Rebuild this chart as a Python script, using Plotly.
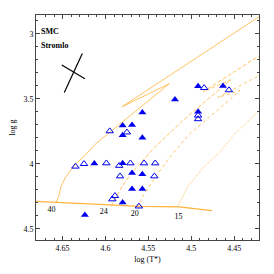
import plotly.graph_objects as go

# ---------------- data ----------------
filled_logT = [4.492, 4.463, 4.519, 4.557, 4.492, 4.580, 4.569, 4.580, 4.557,
               4.613, 4.580, 4.569, 4.557, 4.569, 4.557, 4.580, 4.624]
filled_logg = [3.402, 3.400, 3.504, 3.604, 3.598, 3.704, 3.700, 3.779, 3.798,
               3.997, 3.995, 4.070, 4.080, 4.193, 4.193, 4.297, 4.393]

open_logT = [4.485, 4.456, 4.492, 4.492, 4.595, 4.575, 4.635, 4.625, 4.599,
             4.584, 4.571, 4.555, 4.542, 4.583, 4.543, 4.589, 4.592, 4.561]
open_logg = [3.415, 3.432, 3.627, 3.655, 3.748, 3.757, 4.020, 4.000, 3.995,
             4.014, 3.995, 3.995, 3.995, 4.095, 4.095, 4.246, 4.272, 4.327]

zams_logT = [4.690, 4.646, 4.601, 4.559, 4.514, 4.476]
zams_logg = [4.286, 4.299, 4.310, 4.327, 4.331, 4.360]

t40_logT = [4.6576, 4.6542, 4.6519, 4.6463, 4.6350, 4.6237, 4.6124, 4.5786, 4.5256, 4.5808, 4.4092]
t40_logg = [4.2968, 4.2440, 4.1760, 4.1005, 4.0023, 3.9343, 3.8512, 3.6699, 3.3829, 3.5604, 2.8165]

t24_logT = [4.5932, 4.5876, 4.5808, 4.5695, 4.5560, 4.5428, 4.5103, 4.4539, 4.4860, 4.4036]
t24_logg = [4.3233, 4.2515, 4.1760, 4.0702, 3.9721, 3.8739, 3.6699, 3.3527, 3.4434, 3.0959]

t20_logT = [4.5633, 4.5560, 4.5447, 4.5278, 4.5029, 4.4713, 4.4431, 4.4690, 4.4036]
t20_logg = [4.3346, 4.2440, 4.1307, 3.9721, 3.7757, 3.5944, 3.4358, 3.4887, 3.2600]

t15_logT = [4.5159, 4.5105, 4.5041, 4.4954, 4.4841, 4.4672, 4.4502, 4.4100]
t15_logg = [4.3293, 4.2538, 4.1760, 4.1027, 4.0151, 3.9139, 3.7757, 3.5200]

track_labels = ["40", "24", "20", "15"]
label_logT = [4.663, 4.602, 4.566, 4.515]
label_logg = [4.353, 4.373, 4.388, 4.410]

err1_logT = [4.648, 4.627]
err1_logg = [3.451, 3.151]
err2_logT = [4.651, 4.624]
err2_logg = [3.239, 3.345]

xticks = [4.65, 4.6, 4.55, 4.5, 4.45]
xtick_text = ["4.65", "4.6", "4.55", "4.5", "4.45"]
yticks = [3, 3.5, 4, 4.5]
ytick_text = ["3", "3.5", "4", "4.5"]

ORANGE = "#FFB43C"
BLUE = "#0000EE"
FONT = "Liberation Serif"

fig = go.Figure()

fig.add_trace(go.Scatter(x=zams_logT, y=zams_logg, mode="lines",
                         line=dict(color=ORANGE, width=1.4), hoverinfo="skip"))
fig.add_trace(go.Scatter(x=t40_logT, y=t40_logg, mode="lines",
                         line=dict(color=ORANGE, width=0.8), hoverinfo="skip"))
fig.add_trace(go.Scatter(x=t24_logT, y=t24_logg, mode="lines",
                         line=dict(color=ORANGE, width=0.8, dash="4px,2px"), hoverinfo="skip"))
fig.add_trace(go.Scatter(x=t20_logT, y=t20_logg, mode="lines",
                         line=dict(color=ORANGE, width=0.8, dash="3px,3px"), hoverinfo="skip"))
fig.add_trace(go.Scatter(x=t15_logT, y=t15_logg, mode="lines",
                         line=dict(color=ORANGE, width=0.8, dash="1px,1px"), hoverinfo="skip"))

for ex, ey in ((err1_logT, err1_logg), (err2_logT, err2_logg)):
    fig.add_trace(go.Scatter(x=ex, y=ey, mode="lines",
                             line=dict(color="black", width=1.2), hoverinfo="skip"))

fig.add_trace(go.Scatter(x=open_logT, y=open_logg, mode="markers",
                         marker=dict(symbol="triangle-up-open", size=6.5, color=BLUE,
                                     line=dict(width=1, color=BLUE))))
fig.add_trace(go.Scatter(x=filled_logT, y=filled_logg, mode="markers",
                         marker=dict(symbol="triangle-up", size=7, color=BLUE,
                                     line=dict(width=0))))

fig.add_trace(go.Scatter(x=label_logT, y=label_logg, mode="text", text=track_labels,
                         textfont=dict(family=FONT, size=8, color="black"),
                         hoverinfo="skip"))

fig.add_annotation(x=0.015, y=0.927, xref="paper", yref="paper", text="<b>SMC</b>",
                   showarrow=False, xanchor="left", yanchor="middle",
                   font=dict(family=FONT, size=8, color="black"))
fig.add_annotation(x=0.015, y=0.865, xref="paper", yref="paper", text="<b>Stromlo</b>",
                   showarrow=False, xanchor="left", yanchor="middle",
                   font=dict(family=FONT, size=8, color="black"))

axis_common = dict(showgrid=False, zeroline=False, showline=True, linecolor="#444",
                   linewidth=1, mirror="allticks", ticks="inside", ticklen=4,
                   tickcolor="#444", tickwidth=1,
                   tickfont=dict(family=FONT, size=8, color="black"))

fig.update_xaxes(range=[4.681, 4.421], tickvals=xticks, ticktext=xtick_text,
                 minor=dict(dtick=0.01, ticks="inside", ticklen=2, tickcolor="#444"),
                 title=dict(text="log (T*)", font=dict(family=FONT, size=8, color="black"),
                            standoff=4),
                 **axis_common)
fig.update_yaxes(range=[4.586, 2.854], tickvals=yticks, ticktext=ytick_text,
                 minor=dict(dtick=0.1, ticks="inside", ticklen=2, tickcolor="#444"),
                 title=dict(text="log g", font=dict(family=FONT, size=8, color="black"),
                            standoff=6),
                 **axis_common)

fig.update_layout(width=274, height=274, showlegend=False,
                  margin=dict(l=29, r=15, t=15, b=30),
                  plot_bgcolor="white", paper_bgcolor="white")

fig.write_html("out.html", config={"displayModeBar": False},
               post_script="document.body.style.margin='0';document.body.style.padding='0';")
